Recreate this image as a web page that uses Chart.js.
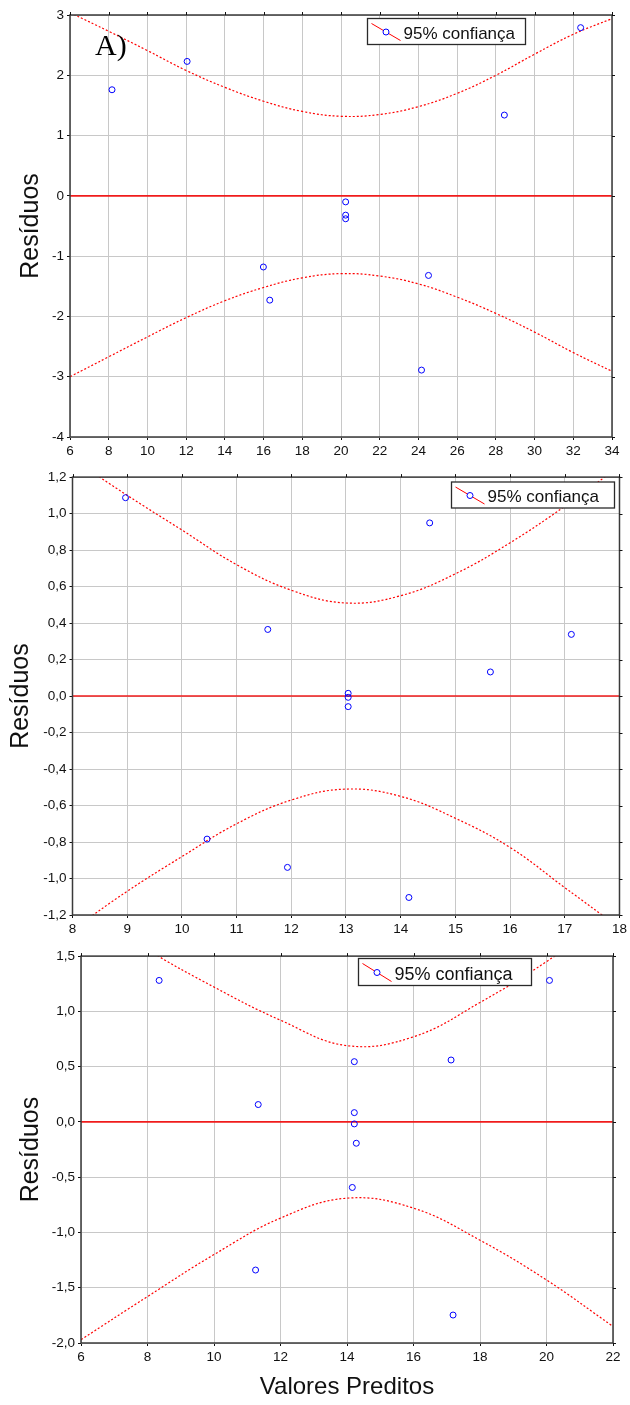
<!DOCTYPE html>
<html lang="pt">
<head>
<meta charset="utf-8">
<title>Resíduos x Valores Preditos</title>
<script src="https://cdn.jsdelivr.net/npm/chart.js@4.4.1/dist/chart.umd.min.js"></script>
<style>
  html, body { margin: 0; padding: 0; background: #fff; }
  #pagina { position: relative; width: 630px; height: 1405px; overflow: hidden; }
  .painel { position: absolute; left: 0; width: 630px; }
  canvas { display: block; }
</style>
</head>
<body>
<div id="pagina">
  <div class="painel" style="top:0"><canvas id="graficoA" width="630" height="466"></canvas></div>
  <div class="painel" style="top:466px"><canvas id="graficoB" width="630" height="479"></canvas></div>
  <div class="painel" style="top:945px"><canvas id="graficoC" width="630" height="460"></canvas></div>
</div>
<script>
// Painel A
const predA  = [8.17, 12.05, 15.99, 16.32, 20.24, 20.24, 20.24, 24.16, 24.52, 28.44, 32.38];
const residA = [1.76, 2.23, -1.18, -1.73, -0.10, -0.32, -0.38, -2.89, -1.32, 1.34, 2.79];
const faixaXA  = [6, 8, 10, 12, 14, 16, 18, 20, 22, 24, 26, 28, 30, 32, 34];
const superA   = [3.04, 2.73, 2.41, 2.08, 1.80, 1.57, 1.40, 1.32, 1.35, 1.48, 1.70, 2.00, 2.35, 2.68, 2.94];
const inferA   = [-3.00, -2.67, -2.34, -2.02, -1.74, -1.52, -1.36, -1.29, -1.33, -1.46, -1.68, -1.95, -2.26, -2.60, -2.91];
const eixoXA = [6, 34, 2];
const eixoYA = [-4, 3, 1];

// Painel B
const predB  = [8.97, 10.46, 11.57, 11.93, 13.04, 13.04, 13.04, 14.15, 14.53, 15.64, 17.12];
const residB = [1.087, -0.784, 0.365, -0.939, 0.015, -0.007, -0.058, -1.104, 0.949, 0.132, 0.338];
const faixaXB  = [8, 9, 10, 11, 12, 13, 14, 15, 16, 17, 18];
const superB   = [1.30, 1.10, 0.91, 0.72, 0.58, 0.51, 0.55, 0.67, 0.84, 1.04, 1.26];
const inferB   = [-1.28, -1.07, -0.88, -0.70, -0.57, -0.51, -0.55, -0.67, -0.83, -1.05, -1.27];
const eixoXB = [8, 18, 1];
const eixoYB = [-1.2, 1.2, 0.2];

// Painel C
const predC  = [8.35, 11.25, 11.33, 14.16, 14.22, 14.22, 14.22, 14.28, 17.13, 17.19, 20.09];
const residC = [1.28, -1.34, 0.157, -0.593, 0.545, 0.084, -0.018, -0.193, 0.56, -1.747, 1.28];
const faixaXC  = [6, 8, 10, 12, 14, 16, 18, 20, 22];
const superC   = [1.97, 1.56, 1.22, 0.92, 0.69, 0.77, 1.08, 1.45, 1.88];
const inferC   = [-1.97, -1.58, -1.20, -0.87, -0.69, -0.78, -1.07, -1.43, -1.85];
const eixoXC = [6, 22, 2];
const eixoYC = [-2, 1.5, 0.5];

const rotuloLegenda = '95% confiança';

Chart.defaults.font.family = "'Liberation Sans', Arial, sans-serif";
Chart.defaults.color = '#111';

const virgula = v => v.toFixed(1).replace('.', ',');
const pares = (xs, ys) => xs.map((x, i) => ({ x, y: ys[i] }));

// moldura do gráfico, marcas nas bordas de cima e da direita, legenda e letra do painel
const painelPlugin = {
    id: 'painel',
    afterDatasetsDraw(chart, args, opts) {
        const { ctx, chartArea: a, scales } = chart;
        ctx.save();
        ctx.strokeStyle = '#3a3a3a';
        ctx.lineWidth = 1.5;
        ctx.strokeRect(a.left, a.top, a.right - a.left, a.bottom - a.top);

        ctx.lineWidth = 1;
        ctx.strokeStyle = '#111';
        ctx.beginPath();
        scales.x.ticks.forEach(t => {
            const px = Math.round(scales.x.getPixelForValue(t.value)) + 0.5;
            ctx.moveTo(px, a.top);
            ctx.lineTo(px, a.top - 3);
        });
        scales.y.ticks.forEach(t => {
            const py = Math.round(scales.y.getPixelForValue(t.value)) + 0.5;
            ctx.moveTo(a.right, py);
            ctx.lineTo(a.right + 3, py);
        });
        ctx.stroke();

        const lg = opts.legenda;
        if (lg) {
            ctx.fillStyle = '#fff';
            ctx.fillRect(lg.x, lg.y, lg.w, lg.h);
            ctx.strokeStyle = '#2a2a2a';
            ctx.lineWidth = 1.3;
            ctx.strokeRect(lg.x, lg.y, lg.w, lg.h);

            ctx.strokeStyle = '#ff0000';
            ctx.lineWidth = 1;
            ctx.beginPath();
            ctx.moveTo(lg.x + 4, lg.y + 5);
            ctx.lineTo(lg.x + 33, lg.y + lg.h - 4);
            ctx.stroke();

            ctx.strokeStyle = '#0000ff';
            ctx.beginPath();
            ctx.arc(lg.x + 18.5, lg.y + (lg.h + 1) / 2, 3, 0, Math.PI * 2);
            ctx.fillStyle = '#fff';
            ctx.fill();
            ctx.stroke();

            ctx.fillStyle = '#111';
            ctx.font = lg.fonte + "px 'Liberation Sans', Arial, sans-serif";
            ctx.textBaseline = 'alphabetic';
            ctx.textAlign = 'left';
            ctx.fillText(rotuloLegenda, lg.x + 36, lg.y + lg.h - 6);
        }

        if (opts.letra) {
            ctx.fillStyle = '#000';
            ctx.font = "30px 'Liberation Serif', 'Times New Roman', serif";
            ctx.textBaseline = 'alphabetic';
            ctx.fillText(opts.letra.texto, opts.letra.x, opts.letra.y);
        }
        ctx.restore();
    }
};

function criarGrafico(id, cfg) {
    const [xMin, xMax, xPasso] = cfg.eixoX;
    const [yMin, yMax, yPasso] = cfg.eixoY;
    const fonteTick = { size: 13.5 };

    return new Chart(document.getElementById(id), {
        type: 'scatter',
        data: {
            datasets: [
                {
                    data: pares(cfg.pred, cfg.resid),
                    pointRadius: 3,
                    pointHoverRadius: 3,
                    borderWidth: 1,
                    borderColor: '#0000ff',
                    backgroundColor: 'rgba(0,0,0,0)'
                },
                {
                    data: pares(cfg.faixaX, cfg.sup),
                    showLine: true,
                    borderColor: '#ff0000',
                    borderWidth: 1.2,
                    borderDash: [2, 2],
                    pointRadius: 0,
                    tension: 0.4,
                    clip: 0
                },
                {
                    data: pares(cfg.faixaX, cfg.inf),
                    showLine: true,
                    borderColor: '#ff0000',
                    borderWidth: 1.2,
                    borderDash: [2, 2],
                    pointRadius: 0,
                    tension: 0.4,
                    clip: 0
                },
                {
                    data: [{ x: xMin, y: 0 }, { x: xMax, y: 0 }],
                    showLine: true,
                    borderColor: '#f01c1c',
                    borderWidth: 1.6,
                    pointRadius: 0
                }
            ]
        },
        options: {
            responsive: false,
            animation: false,
            events: [],
            layout: { padding: { top: cfg.topo, right: cfg.direita, left: 0, bottom: 0 } },
            plugins: {
                legend: { display: false },
                tooltip: { enabled: false },
                painel: { legenda: cfg.legenda, letra: cfg.letra }
            },
            scales: {
                x: {
                    type: 'linear',
                    min: xMin,
                    max: xMax,
                    afterFit: s => { s.height = cfg.baseAltura; },
                    ticks: { stepSize: xPasso, font: fonteTick, padding: 3, color: '#111', maxRotation: 0 },
                    grid: { color: '#c8c8c8', lineWidth: 1, tickLength: 3, tickColor: '#111' },
                    border: { display: false },
                    title: cfg.tituloX
                        ? { display: true, text: cfg.tituloX, font: { size: 24 }, color: '#111', padding: { top: 0, bottom: 3 } }
                        : { display: false }
                },
                y: {
                    type: 'linear',
                    min: yMin,
                    max: yMax,
                    afterFit: s => { s.width = cfg.esquerda; },
                    ticks: { stepSize: yPasso, font: fonteTick, padding: 3, color: '#111', callback: cfg.formato },
                    grid: { color: '#c8c8c8', lineWidth: 1, tickLength: 3, tickColor: '#111' },
                    border: { display: false },
                    title: { display: true, text: 'Resíduos', font: { size: 25 }, color: '#111', padding: { top: cfg.tituloY, bottom: 0 } }
                }
            }
        },
        plugins: [painelPlugin]
    });
}

criarGrafico('graficoA', {
    pred: predA, resid: residA, faixaX: faixaXA, sup: superA, inf: inferA,
    eixoX: eixoXA, eixoY: eixoYA,
    topo: 15, direita: 18, esquerda: 70, baseAltura: 29, tituloY: 16,
    formato: v => String(v),
    legenda: { x: 367.5, y: 18.5, w: 158, h: 26, fonte: 17 },
    letra: { texto: 'A)', x: 95, y: 55 }
});

criarGrafico('graficoB', {
    pred: predB, resid: residB, faixaX: faixaXB, sup: superB, inf: inferB,
    eixoX: eixoXB, eixoY: eixoYB,
    topo: 11, direita: 9, esquerda: 72.5, baseAltura: 30, tituloY: 6,
    formato: virgula,
    legenda: { x: 451.5, y: 16, w: 163, h: 26, fonte: 17 }
});

criarGrafico('graficoC', {
    pred: predC, resid: residC, faixaX: faixaXC, sup: superC, inf: inferC,
    eixoX: eixoXC, eixoY: eixoYC,
    topo: 11, direita: 17, esquerda: 81, baseAltura: 62, tituloY: 16,
    formato: virgula,
    tituloX: 'Valores Preditos',
    legenda: { x: 358.5, y: 13.5, w: 173, h: 27, fonte: 18 }
});
</script>
</body>
</html>
